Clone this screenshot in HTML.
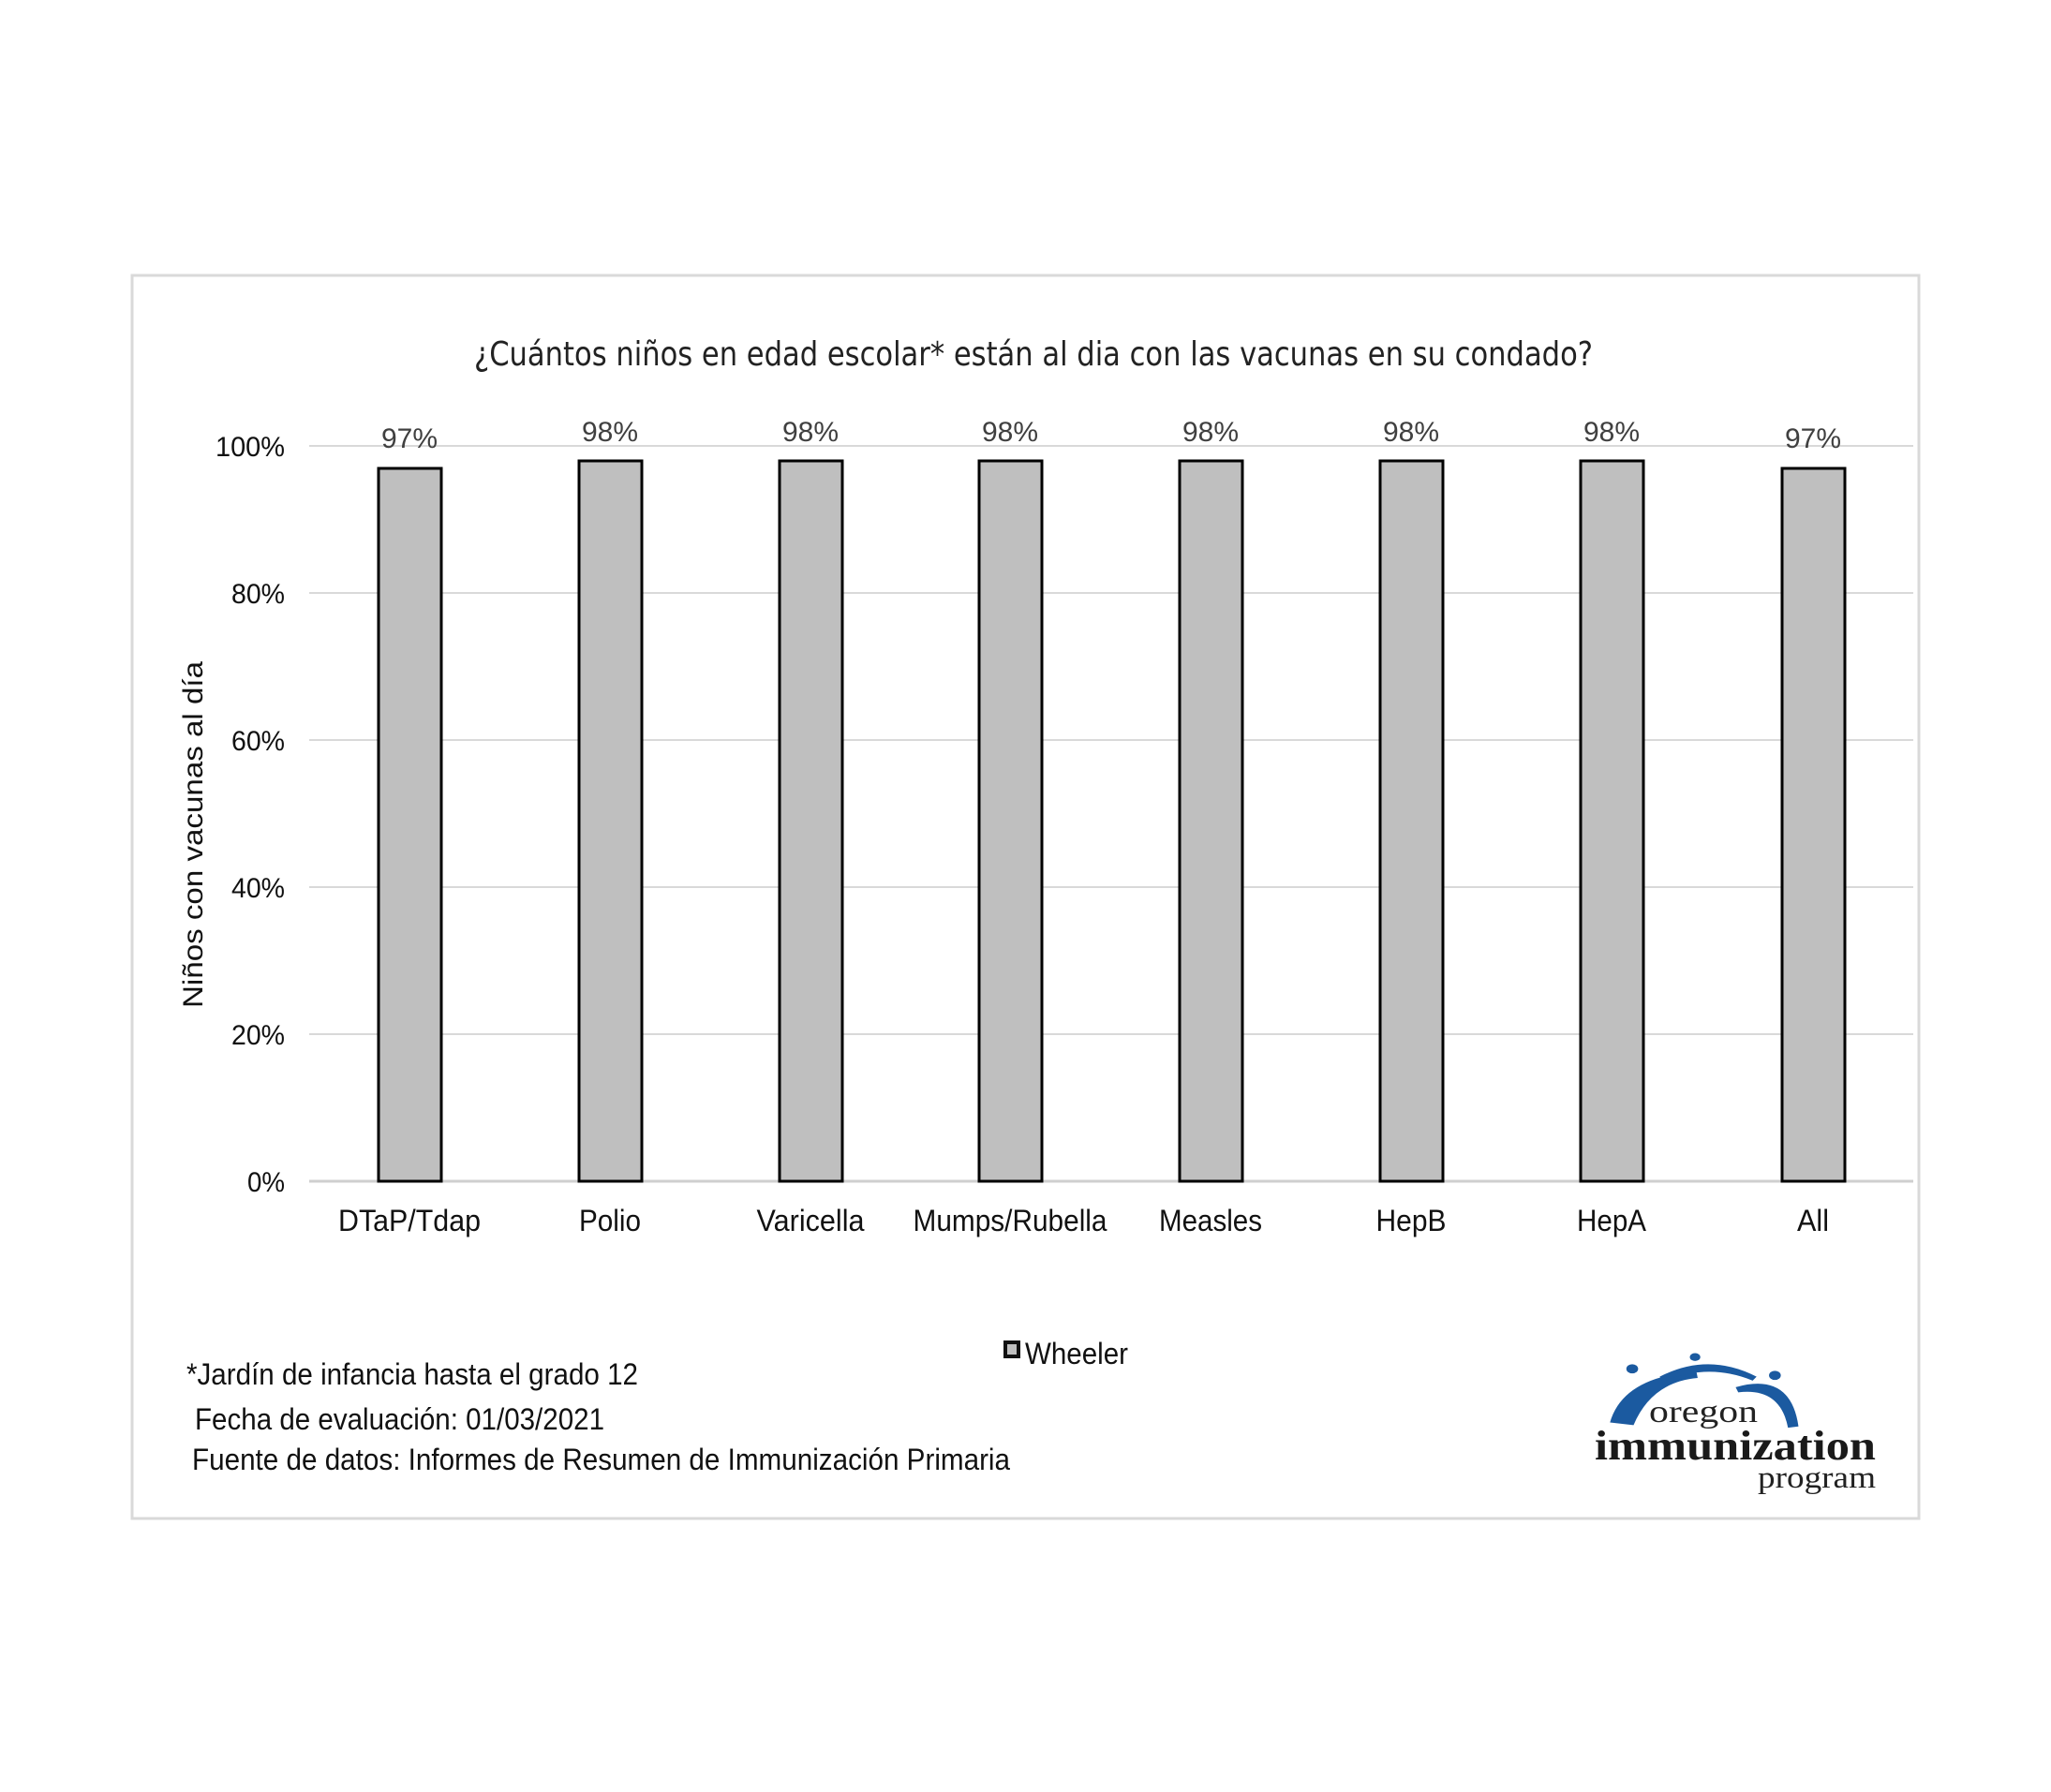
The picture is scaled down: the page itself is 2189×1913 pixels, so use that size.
<!DOCTYPE html>
<html><head><meta charset="utf-8"><style>
html,body{margin:0;padding:0;background:#fff;}
svg{display:block;}
text{font-family:"Liberation Sans Narrow","Liberation Sans",sans-serif;}
</style></head><body>
<svg width="2189" height="1913" viewBox="0 0 2189 1913" xmlns="http://www.w3.org/2000/svg">
<rect x="141" y="294" width="1907" height="1327" fill="#fff" stroke="#d9d9d9" stroke-width="3"/>
<text x="1103" y="390" text-anchor="middle" font-size="36" fill="#222" textLength="1194" lengthAdjust="spacingAndGlyphs" style="font-family:'DejaVu Sans','Liberation Sans',sans-serif">¿Cuántos niños en edad escolar* están al dia con las vacunas en su condado?</text>
<g stroke="#d9d9d9" stroke-width="2">
<line x1="330" y1="476" x2="2042" y2="476"/>
<line x1="330" y1="633" x2="2042" y2="633"/>
<line x1="330" y1="790" x2="2042" y2="790"/>
<line x1="330" y1="947" x2="2042" y2="947"/>
<line x1="330" y1="1104" x2="2042" y2="1104"/>
<line x1="330" y1="1261" x2="2042" y2="1261" stroke="#cfcfcf" stroke-width="3"/>
</g>
<g font-size="30" fill="#111" text-anchor="end">
<text x="304" y="487" textLength="74" lengthAdjust="spacingAndGlyphs">100%</text>
<text x="304" y="644" textLength="57" lengthAdjust="spacingAndGlyphs">80%</text>
<text x="304" y="801" textLength="57" lengthAdjust="spacingAndGlyphs">60%</text>
<text x="304" y="958" textLength="57" lengthAdjust="spacingAndGlyphs">40%</text>
<text x="304" y="1115" textLength="57" lengthAdjust="spacingAndGlyphs">20%</text>
<text x="304" y="1272" textLength="40" lengthAdjust="spacingAndGlyphs">0%</text>
</g>
<text transform="translate(216,891) rotate(-90)" text-anchor="middle" font-size="30" fill="#111" textLength="370" lengthAdjust="spacingAndGlyphs" style="font-family:'Liberation Sans',sans-serif">Niños con vacunas al día</text>
<g fill="#bfbfbf" stroke="#000" stroke-width="3">
<rect x="404" y="500" width="67" height="761"/>
<rect x="618" y="492" width="67" height="769"/>
<rect x="832" y="492" width="67" height="769"/>
<rect x="1045" y="492" width="67" height="769"/>
<rect x="1259" y="492" width="67" height="769"/>
<rect x="1473" y="492" width="67" height="769"/>
<rect x="1687" y="492" width="67" height="769"/>
<rect x="1902" y="500" width="67" height="761"/>
</g>
<g font-size="30" fill="#404040" text-anchor="middle">
<text x="437" y="478">97%</text>
<text x="651" y="471">98%</text>
<text x="865" y="471">98%</text>
<text x="1078" y="471">98%</text>
<text x="1292" y="471">98%</text>
<text x="1506" y="471">98%</text>
<text x="1720" y="471">98%</text>
<text x="1935" y="478">97%</text>
</g>
<g font-size="32" fill="#111" text-anchor="middle">
<text x="437" y="1314" textLength="152" lengthAdjust="spacingAndGlyphs">DTaP/Tdap</text>
<text x="651" y="1314" textLength="66" lengthAdjust="spacingAndGlyphs">Polio</text>
<text x="865" y="1314" textLength="115" lengthAdjust="spacingAndGlyphs">Varicella</text>
<text x="1078" y="1314" textLength="207" lengthAdjust="spacingAndGlyphs">Mumps/Rubella</text>
<text x="1292" y="1314" textLength="110" lengthAdjust="spacingAndGlyphs">Measles</text>
<text x="1506" y="1314" textLength="75" lengthAdjust="spacingAndGlyphs">HepB</text>
<text x="1720" y="1314" textLength="74" lengthAdjust="spacingAndGlyphs">HepA</text>
<text x="1935" y="1314" textLength="34" lengthAdjust="spacingAndGlyphs">All</text>
</g>
<rect x="1073" y="1433" width="14" height="15" fill="#bfbfbf" stroke="#111" stroke-width="4"/>
<text x="1094" y="1456" font-size="32" fill="#111" textLength="110" lengthAdjust="spacingAndGlyphs">Wheeler</text>
<g font-size="32" fill="#111">
<text x="199" y="1478" textLength="482" lengthAdjust="spacingAndGlyphs">*Jardín de infancia hasta el grado 12</text>
<text x="208" y="1526" textLength="437" lengthAdjust="spacingAndGlyphs">Fecha de evaluación: 01/03/2021</text>
<text x="205" y="1569" textLength="873" lengthAdjust="spacingAndGlyphs">Fuente de datos: Informes de Resumen de Immunización Primaria</text>
</g>
<g transform="scale(1.397)" fill="#1b5aa0">
<path d="M1230,1087 Q1240,1052 1296,1048 L1297,1053 Q1262,1056 1248,1089 Z"/>
<path d="M1268,1052 Q1305,1033 1342,1052 L1339,1055 Q1305,1041 1270,1056 Z"/>
<path d="M1326,1060 Q1368,1048 1374,1090 L1366,1091 Q1360,1060 1328,1064 Z"/>
<ellipse cx="1247" cy="1046" rx="4.5" ry="3.5"/>
<ellipse cx="1295" cy="1037" rx="4" ry="3"/>
<ellipse cx="1356" cy="1051" rx="4.5" ry="3.5"/>
</g>
<text x="1818" y="1518" text-anchor="middle" font-size="34" fill="#222" textLength="116" lengthAdjust="spacingAndGlyphs" style="font-family:'Liberation Serif',serif">oregon</text>
<text x="1852" y="1558" text-anchor="middle" font-size="44" font-weight="bold" fill="#1a1a1a" textLength="300" lengthAdjust="spacingAndGlyphs" style="font-family:'Liberation Serif',serif">immunization</text>
<text x="2002" y="1588" text-anchor="end" font-size="33" fill="#222" textLength="126" lengthAdjust="spacingAndGlyphs" style="font-family:'Liberation Serif',serif">program</text>
</svg>
</body></html>
